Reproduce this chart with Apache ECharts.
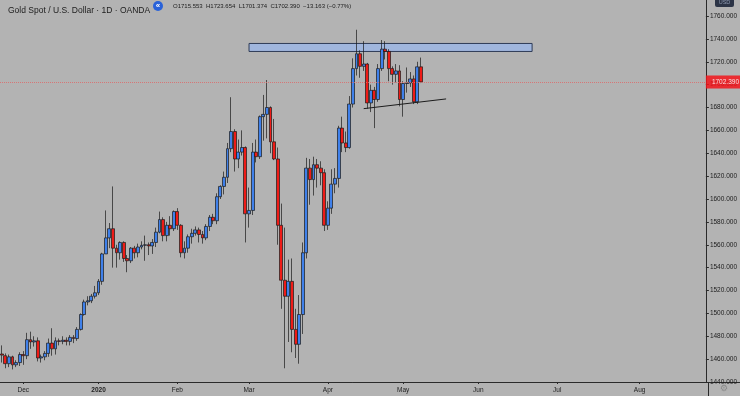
<!DOCTYPE html>
<html>
<head>
<meta charset="utf-8">
<script src="https://cdn.jsdelivr.net/npm/echarts@6/dist/echarts.min.js"></script>
<style>
html,body{margin:0;padding:0;background:#b3b3b3;}
#c{width:740px;height:396px;}
</style>
</head>
<body>
<div id="c"></div>
<script>
// Trading days shown as candles
const candleDates = [
 '2019-11-22','2019-11-25','2019-11-26','2019-11-27','2019-11-28','2019-11-29',
 '2019-12-02','2019-12-03','2019-12-04','2019-12-05','2019-12-06',
 '2019-12-09','2019-12-10','2019-12-11','2019-12-12','2019-12-13',
 '2019-12-16','2019-12-17','2019-12-18','2019-12-19','2019-12-20',
 '2019-12-23','2019-12-24','2019-12-26','2019-12-27','2019-12-30','2019-12-31',
 '2020-01-02','2020-01-03','2020-01-06','2020-01-07','2020-01-08','2020-01-09','2020-01-10',
 '2020-01-13','2020-01-14','2020-01-15','2020-01-16','2020-01-17',
 '2020-01-20','2020-01-21','2020-01-22','2020-01-23','2020-01-24',
 '2020-01-27','2020-01-28','2020-01-29','2020-01-30','2020-01-31',
 '2020-02-03','2020-02-04','2020-02-05','2020-02-06','2020-02-07',
 '2020-02-10','2020-02-11','2020-02-12','2020-02-13','2020-02-14',
 '2020-02-17','2020-02-18','2020-02-19','2020-02-20','2020-02-21',
 '2020-02-24','2020-02-25','2020-02-26','2020-02-27','2020-02-28',
 '2020-03-02','2020-03-03','2020-03-04','2020-03-05','2020-03-06',
 '2020-03-09','2020-03-10','2020-03-11','2020-03-12','2020-03-13',
 '2020-03-16','2020-03-17','2020-03-18','2020-03-19','2020-03-20',
 '2020-03-23','2020-03-24','2020-03-25','2020-03-26','2020-03-27',
 '2020-03-30','2020-03-31',
 '2020-04-01','2020-04-02','2020-04-03','2020-04-06','2020-04-07','2020-04-08','2020-04-09',
 '2020-04-13','2020-04-14','2020-04-15','2020-04-16','2020-04-17',
 '2020-04-20','2020-04-21','2020-04-22','2020-04-23','2020-04-24',
 '2020-04-27','2020-04-28','2020-04-29','2020-04-30',
 '2020-05-01','2020-05-04','2020-05-05','2020-05-06','2020-05-07','2020-05-08'
];
// Empty future trading days on the right of the chart
const futureDates = [
 '2020-05-11','2020-05-12','2020-05-13','2020-05-14','2020-05-15',
 '2020-05-18','2020-05-19','2020-05-20','2020-05-21','2020-05-22',
 '2020-05-25','2020-05-26','2020-05-27','2020-05-28','2020-05-29',
 '2020-06-01','2020-06-02','2020-06-03','2020-06-04','2020-06-05',
 '2020-06-08','2020-06-09','2020-06-10','2020-06-11','2020-06-12',
 '2020-06-15','2020-06-16','2020-06-17','2020-06-18','2020-06-19',
 '2020-06-22','2020-06-23','2020-06-24','2020-06-25','2020-06-26',
 '2020-06-29','2020-06-30',
 '2020-07-01','2020-07-02','2020-07-03',
 '2020-07-06','2020-07-07','2020-07-08','2020-07-09','2020-07-10',
 '2020-07-13','2020-07-14','2020-07-15','2020-07-16','2020-07-17',
 '2020-07-20','2020-07-21','2020-07-22','2020-07-23','2020-07-24',
 '2020-07-27','2020-07-28','2020-07-29','2020-07-30','2020-07-31',
 '2020-08-03','2020-08-04','2020-08-05','2020-08-06','2020-08-07',
 '2020-08-10','2020-08-11','2020-08-12','2020-08-13','2020-08-14',
 '2020-08-17','2020-08-18','2020-08-19','2020-08-20','2020-08-21',
 '2020-08-24','2020-08-25','2020-08-26','2020-08-27'
];
const opens = [
 1464.5,1463,1456,1462,1455,1457,
 1464,1463,1477,1475,1476,
 1461,1462,1465,1474,1469,
 1476,1475.5,1476.5,1475.5,1479,
 1478,1486,1499,1510,1511,1515,
 1518,1528,1552,1566,1574,1557,1553,
 1562,1548,1546,1557,1553,
 1558,1559.5,1560,1559,1562,
 1571,1582,1568,1577,1574,
 1589,1577,1553,1557,1567,
 1570,1573,1569,1566,1576,
 1584,1581,1602,1611,1619,
 1644,1659,1635,1641,1645,
 1587,1590,1641,1637,1672,
 1674,1680,1650,1635,1577,
 1529,1515,1528,1486,1473,
 1499,1553,1627,1617,1630,
 1627,1623,
 1577,1592,1613,1618,1662,1649,1645,
 1683,1714,1727,1716,1718,
 1684,1695,1687,1714,1731,
 1729,1714,1709,1712,
 1687,1701,1701.5,1705,1685,1715.553
];
const highs = [
 1472,1465,1464,1463,1459,1466,
 1467,1483,1484,1480,1479,
 1464,1467,1478,1487,1479,
 1478,1480,1479,1481,1481,
 1488,1500,1512,1515,1517,1524,
 1530,1553,1590,1579,1611,1560,1563,
 1563,1551,1558,1559,1561,
 1563,1568,1562,1565,1575,
 1589,1584,1580,1585,1590,
 1592,1578,1563,1569,1574,
 1576,1575,1572,1578,1586,
 1587,1605,1612,1624,1649,
 1689,1661,1652,1660,1646,
 1610,1649,1652,1673,1691,
 1704,1681,1670,1645,1596,
 1575,1547,1548,1504,1516,
 1562,1636,1635,1637,1635,
 1633,1626,
 1598,1626,1627,1664,1672,1659,1690,
 1723,1748,1730,1738,1719,
 1700,1698,1718,1739,1738,
 1731,1716,1718,1717,
 1703,1715,1711,1708,1720,1723.654
];
const lows = [
 1457,1452,1453,1451,1453,1454,
 1455,1460,1469,1471,1458,
 1457,1459,1462,1463,1464,
 1472,1473,1472,1472,1474,
 1476,1485,1498,1507,1509,1513,
 1516,1525,1552,1557,1540,1540,1547,
 1545,1536,1544,1548,1549,
 1556,1546,1551,1552,1558,
 1570,1563,1563,1568,1572,
 1573,1549,1548,1553,1561,
 1568,1562,1561,1564,1572,
 1578,1578,1600,1604,1614,
 1641,1624,1627,1638,1562,
 1575,1586,1632,1635,1651,
 1653,1640,1634,1560,1504,
 1452,1475,1466,1461,1456,
 1482,1548,1595,1603,1610,
 1612,1572,
 1573,1587,1605,1610,1641,1641,1644,
 1680,1708,1706,1712,1679,
 1676,1662,1685,1712,1722,
 1703,1700,1702,1681,
 1672,1693,1698,1683,1683,1701.374
];
const closes = [
 1463.5,1456,1462,1455,1457,1464,
 1463,1477,1475,1476,1461,
 1462,1465,1474,1469,1476,
 1475.5,1476.5,1475.5,1479,1478,
 1486,1499,1510,1511,1515,1518,
 1528,1552,1566,1574,1557,1553,1562,
 1548,1546,1557,1553,1558,
 1559.5,1560,1559,1562,1571,
 1582,1568,1577,1574,1589,
 1577,1553,1557,1567,1570,
 1573,1569,1566,1576,1584,
 1581,1602,1611,1619,1644,
 1659,1635,1641,1645,1587,
 1590,1641,1637,1672,1674,
 1680,1650,1635,1577,1529,
 1515,1528,1486,1473,1499,
 1553,1627,1617,1630,1627,
 1623,1577,
 1592,1613,1618,1662,1649,1645,1683,
 1714,1727,1716,1718,1684,
 1695,1687,1714,1731,1729,
 1714,1709,1712,1687,
 1701,1701.5,1705,1685,1715.553,1702.390
];
const lastPrice = 1702.390;
const monthNames = {'2019-12':'Dec','2020-01':'2020','2020-02':'Feb','2020-03':'Mar','2020-04':'Apr','2020-05':'May','2020-06':'Jun','2020-07':'Jul','2020-08':'Aug'};
const yTicks = {min:1440, max:1774, step:20};
const boxZone = {from:'2020-03-02', to:'2020-06-22', top:1736, bottom:1729};
const trendLine = {from:'2020-04-16', fromVal:1679, to:'2020-05-19', toVal:1687.5};

const allDates = candleDates.concat(futureDates);
const candleData = opens.map((o,i)=>[o, closes[i], lows[i], highs[i]]);
const isMonthStart = (idx) => idx > 0 && allDates[idx].slice(0,7) !== allDates[idx-1].slice(0,7);
const FONT = "'Liberation Sans', Arial, sans-serif";

const chart = echarts.init(document.getElementById('c'), null, {renderer:'canvas'});
chart.setOption({
  backgroundColor:'#b3b3b3',
  animation:false,
  textStyle:{fontFamily:FONT},
  title:{
    text:'Gold Spot / U.S. Dollar · 1D · OANDA',
    left:3, top:1,
    textStyle:{fontSize:8.5, fontWeight:'normal', color:'#1c1c1c', fontFamily:FONT}
  },
  grid:{left:0, right:32, top:0, bottom:14, containLabel:false},
  xAxis:{
    type:'category',
    data:allDates,
    boundaryGap:true,
    axisLine:{show:true, lineStyle:{color:'#2a2a2a', width:1}},
    axisTick:{show:true, interval:(i)=>isMonthStart(i), alignWithLabel:true, length:2, lineStyle:{color:'#2a2a2a'}},
    axisLabel:{
      interval:(i)=>isMonthStart(i),
      margin:5,
      fontSize:6.5,
      color:'#222',
      formatter:(v)=>{const m=v.slice(0,7); return m==='2020-01' ? '{b|2020}' : (monthNames[m]||'');},
      rich:{b:{fontWeight:'bold', fontSize:6.5, color:'#222'}}
    },
    splitLine:{show:false}
  },
  yAxis:{
    type:'value',
    position:'right',
    min:yTicks.min, max:yTicks.max, interval:yTicks.step,
    scale:true,
    axisLine:{show:true, lineStyle:{color:'#2a2a2a', width:1}},
    axisTick:{show:true, length:3, lineStyle:{color:'#2a2a2a'}},
    axisLabel:{
      margin:4, fontSize:6.5, color:'#1c1c1c',
      showMaxLabel:false,
      formatter:(v)=> (Math.round(v) % 20 === 0 ? v.toFixed(3) : '')
    },
    splitLine:{show:false}
  },
  series:[{
    type:'candlestick',
    data:candleData,
    barWidth:3.4,
    itemStyle:{
      color:'#3f80ea', color0:'#ee1b17',
      borderColor:'#1a1a1a', borderColor0:'#1a1a1a', borderWidth:0.7
    },
    markArea:{
      silent:true,
      itemStyle:{color:'#a0b6dd', borderColor:'#2e3b56', borderWidth:1},
      data:[[{xAxis:boxZone.from, yAxis:boxZone.top},{xAxis:boxZone.to, yAxis:boxZone.bottom}]]
    },
    markLine:{
      silent:true,
      symbol:['none','none'],
      animation:false,
      data:[
        {
          yAxis:lastPrice,
          lineStyle:{color:'#dc6b6b', type:'dotted', width:1, opacity:0.85},
          label:{
            show:true, position:'end', distance:0,
            formatter:()=>lastPrice.toFixed(3),
            backgroundColor:'#f2141a', color:'#fff', fontSize:6.5,
            padding:[3,8,3,6], fontFamily:FONT
          }
        },
        [
          {coord:[trendLine.from, trendLine.fromVal], lineStyle:{color:'#1c1c1c', type:'solid', width:1}, label:{show:false}},
          {coord:[trendLine.to, trendLine.toVal]}
        ]
      ]
    }
  }],
  graphic:[
    {type:'line', shape:{x1:708, y1:382.5, x2:740, y2:382.5}, style:{stroke:'#2a2a2a', lineWidth:1}, silent:true},
    {type:'line', shape:{x1:708.5, y1:382, x2:708.5, y2:396}, style:{stroke:'#2a2a2a', lineWidth:1}, silent:true},
    {type:'circle', shape:{cx:158, cy:6, r:5}, style:{fill:'#2962d9'}, silent:true},
    {type:'text', x:158, y:6, style:{text:'«', fill:'#fff', fontSize:8, fontWeight:'bold', align:'center', verticalAlign:'middle', fontFamily:FONT}, silent:true},
    {type:'text', x:173, y:6.5, style:{text:'O1715.553  H1723.654  L1701.374  C1702.390  −13.163 (−0.77%)', fill:'#1c1c1c', fontSize:6, verticalAlign:'middle', fontFamily:FONT}, silent:true},
    {type:'rect', shape:{x:715, y:-3, width:19, height:10, r:2}, style:{fill:'#2c3446'}, silent:true},
    {type:'text', x:724.5, y:2.5, style:{text:'USD', fill:'#8f9bb2', fontSize:5.5, align:'center', verticalAlign:'middle', fontFamily:FONT}, silent:true},
    {type:'text', x:724, y:389, style:{text:'⚙', fill:'#8a8a8a', fontSize:9, align:'center', verticalAlign:'middle', fontFamily:'DejaVu Sans'}, silent:true}
  ]
});
</script>
</body>
</html>
